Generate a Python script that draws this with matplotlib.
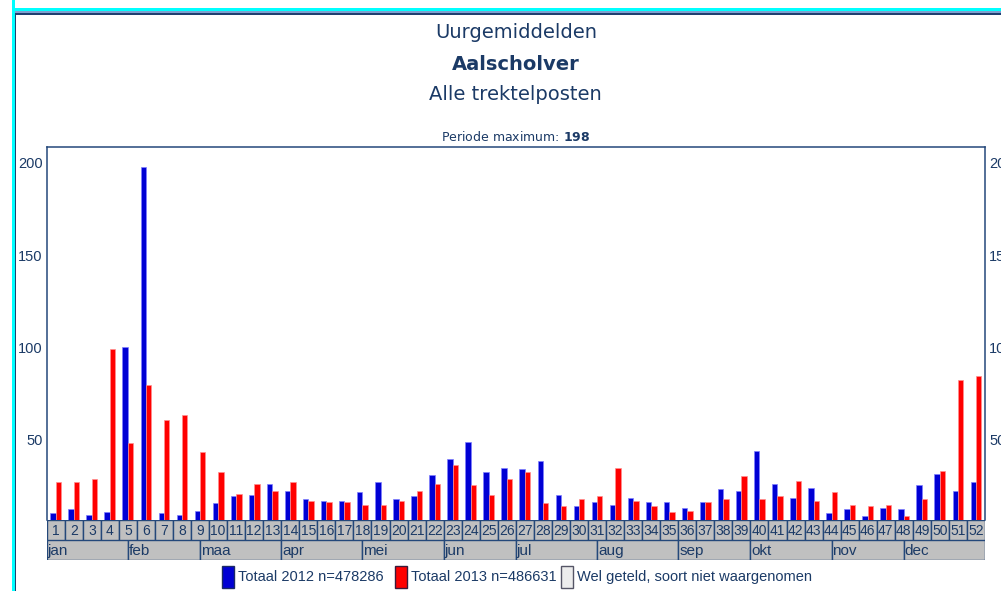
import matplotlib
matplotlib.use("Agg")
import matplotlib.pyplot as plt
from matplotlib.patches import Rectangle
import numpy as np

# Weekly hourly averages (Aalscholver), weeks 1..52
weeks = list(range(1, 53))
totaal_2012 = [10.3, 12.5, 9.2, 10.8, 100.2, 198, 10.3, 9.4, 11.7, 15.7,
               19.5, 20.2, 26.3, 22.5, 17.9, 17.1, 17.1, 21.7, 27.1, 17.9,
               19.5, 31.0, 39.5, 48.7, 32.5, 35.0, 34.1, 38.8, 20.2, 14.1,
               16.4, 14.8, 18.6, 16.4, 16.4, 13.3, 16.4, 23.3, 22.5, 44.2,
               26.3, 18.6, 24.0, 10.3, 12.5, 8.7, 13.3, 12.5, 25.6, 31.7,
               22.5, 27.1]
totaal_2013 = [27.1, 27.1, 28.7, 99.3, 48.2, 80.0, 60.6, 63.5, 43.5, 32.5,
               20.9, 26.3, 22.5, 27.1, 17.1, 16.4, 16.4, 14.8, 14.8, 17.1,
               22.5, 26.3, 36.4, 25.6, 20.2, 28.7, 32.5, 15.7, 14.1, 17.9,
               19.5, 35.0, 17.1, 14.1, 11.0, 11.7, 16.4, 17.9, 30.5, 17.9,
               19.5, 27.9, 17.1, 21.7, 14.8, 14.1, 14.8, 8.7, 17.9, 33.4,
               82.3, 84.5]

months = ["jan", "feb", "maa", "apr", "mei", "jun",
          "jul", "aug", "sep", "okt", "nov", "dec"]
month_span_weeks = [4.5, 4, 4.5, 4.5, 4.5, 4, 4.5, 4.5, 4, 4.5, 4, 4.5]

y_ticks = [50, 100, 150, 200]
period_max = max(totaal_2012 + totaal_2013)

legend_labels = ["Totaal 2012 n=478286", "Totaal 2013 n=486631",
                 "Wel geteld, soort niet waargenomen"]

NAVY = "#1b3a66"
EDGE = "#24487a"
GRAY = "#c0c0c0"
BLUE = "#0000d4"
RED = "#ff0000"
BODY_FONT = ["Liberation Sans", "DejaVu Sans"]

W, H = 1001, 591
fig = plt.figure(figsize=(W / 100, H / 100), dpi=100)
fig.patch.set_facecolor("white")


def fx(px):
    return px / W


def fy(py):
    return 1 - py / H


# page frame: cyan outline with a navy inner rule
fig.add_artist(Rectangle((fx(12), fy(591)), fx(3), 1, transform=fig.transFigure,
                         color="#00ffff", lw=0))
fig.add_artist(Rectangle((fx(12), fy(11)), 1, 3 / H, transform=fig.transFigure,
                         color="#00ffff", lw=0))
fig.add_artist(Rectangle((fx(15), fy(13)), 1, 2 / H, transform=fig.transFigure,
                         color="#7f9fd0", lw=0))
fig.add_artist(Rectangle((fx(15), fy(15)), 1, 2 / H, transform=fig.transFigure,
                         color="#1f3f70", lw=0))
fig.add_artist(Rectangle((fx(15), fy(591)), fx(1.2), 1 - 15 / H, transform=fig.transFigure,
                         color="#1f3f70", lw=0))

# plot geometry
x_left, x_right = 46.7, 985.0
y_top, y_base = 147.0, 520.0
px_per_unit = 1.8467
zero_px = 532.3

ax = fig.add_axes([fx(x_left), fy(y_base), fx(x_right - x_left), (y_base - y_top) / H])
ax.set_xlim(0.5, 52.5)
ax.set_ylim((zero_px - y_base) / px_per_unit, (zero_px - y_top) / px_per_unit)

w = np.array(weeks)
ax.bar(w - 0.15, totaal_2012, width=0.3, color=BLUE, edgecolor="#8080ff", linewidth=0.5)
ax.bar(w + 0.15, totaal_2013, width=0.3, color=RED, edgecolor="#ff9090", linewidth=0.5)

ax.set_xticks([])
ax.set_yticks(y_ticks)
ax.tick_params(axis="y", length=0, pad=3, labelsize=10.5, labelcolor=NAVY,
               left=True, right=True, labelleft=True, labelright=True)
for lab in ax.get_yticklabels():
    lab.set_fontfamily(BODY_FONT)
for side in ("left", "right", "top"):
    ax.spines[side].set_color(EDGE)
    ax.spines[side].set_linewidth(1.1)
ax.spines["bottom"].set_visible(False)

# week number row
wk_ax = fig.add_axes([fx(x_left), fy(540), fx(x_right - x_left), 20 / H])
wk_ax.set_xlim(0.5, 52.5)
wk_ax.set_ylim(0, 1)
wk_ax.axis("off")
wk_ax.bar(weeks, 1, width=1, bottom=0, color=GRAY, edgecolor=EDGE, linewidth=1.0)
for wk in weeks:
    wk_ax.text(wk, 0.45, str(wk), ha="center", va="center", fontsize=10,
               color=NAVY, family=BODY_FONT)

# month row
mo_ax = fig.add_axes([fx(x_left), fy(560), fx(x_right - x_left), 20 / H])
mo_ax.set_xlim(0.5, 52.5)
mo_ax.set_ylim(0, 1)
mo_ax.axis("off")
starts = 0.5 + np.concatenate([[0], np.cumsum(month_span_weeks)[:-1]])
mo_ax.bar(starts, 1, width=month_span_weeks, bottom=0, align="edge",
          color=GRAY, edgecolor=EDGE, linewidth=1.0)
for s, m in zip(starts, months):
    mo_ax.text(s + 0.05, 0.45, m, ha="left", va="center", fontsize=11,
               color=NAVY, family=BODY_FONT)

# titles
cx = fx((x_left + x_right) / 2)
fig.text(cx, fy(33), "Uurgemiddelden", ha="center", va="center", fontsize=14,
         color=NAVY, family="DejaVu Sans")
fig.text(cx, fy(64), "Aalscholver", ha="center", va="center", fontsize=14,
         fontweight="bold", color=NAVY, family="DejaVu Sans")
fig.text(cx, fy(95), "Alle trektelposten", ha="center", va="center", fontsize=14,
         color=NAVY, family="DejaVu Sans")
pm_ax = fig.add_axes([0, 0, 1, 1], facecolor="none")
pm_ax.axis("off")
pm_ax.text(cx, fy(137), "Periode maximum: $\\bf{" + f"{period_max:.0f}" + "}$",
           ha="center", va="center", fontsize=9, color=NAVY, family="DejaVu Sans")

# legend
legend_items = [(222, BLUE, "#1b2a66", legend_labels[0]),
                (395, RED, "#3a1a3a", legend_labels[1]),
                (561, "#ececec", "#555566", legend_labels[2])]
for x0, fc, ec, label in legend_items:
    fig.add_artist(Rectangle((fx(x0), fy(588)), fx(11.5), 22 / H, transform=fig.transFigure,
                             facecolor=fc, edgecolor=ec, linewidth=1.0))
    fig.text(fx(x0 + 16), fy(577), label, ha="left", va="center", fontsize=10.5,
             color=NAVY, family=BODY_FONT)

fig.savefig("out.png", dpi=100)
